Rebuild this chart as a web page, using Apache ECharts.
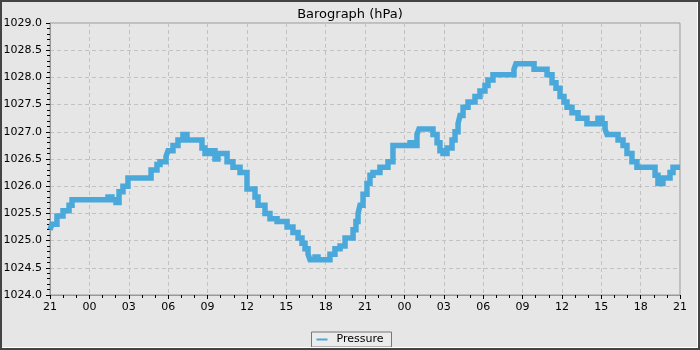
<!DOCTYPE html>
<html>
<head>
<meta charset="utf-8">
<script src="https://cdn.jsdelivr.net/npm/echarts@6/dist/echarts.min.js"></script>
<style>
  html, body { margin: 0; padding: 0; background: #e6e6e6; }
  #chart { width: 700px; height: 350px; }
</style>
</head>
<body>
<div id="chart"></div>
<script>
// hours since 21:00 on day one, and the pressure level held from that hour on
var hours = [0, 0.15, 0.53, 0.99, 1.45, 1.68, 4.42, 4.72, 5.03, 5.26, 5.56, 5.94, 7.70, 8.15, 8.38,
  8.84, 8.99, 9.37, 9.75, 10.13, 10.44, 11.58, 11.81, 12.19, 12.57, 12.80, 13.49, 13.94, 14.48,
  15.01, 15.62, 15.85, 16.38, 16.76, 17.30, 18.06, 18.51, 18.90, 19.20, 19.43, 19.66, 19.81,
  20.19, 20.42, 21.33, 21.71, 22.10, 22.48, 23.09, 23.31, 23.47, 23.62, 23.85, 24.15, 24.38,
  24.61, 25.14, 25.75, 26.13, 27.43, 27.66, 27.96, 28.11, 29.18, 29.49, 29.71, 29.94, 30.25,
  30.63, 30.86, 31.09, 31.24, 31.47, 31.85, 32.38, 32.76, 33.14, 33.37, 33.75, 35.35, 35.50,
  36.88, 37.87, 38.25, 38.55, 38.86, 39.16, 39.39, 39.77, 40.23, 40.91, 41.75, 42.06, 42.29,
  42.44, 43.28, 43.66, 43.96, 44.34, 44.72, 46.10, 46.32, 46.70, 47.24, 47.47, 48];
var pressure = [1025.2, 1025.3, 1025.45, 1025.55, 1025.65, 1025.75, 1025.8, 1025.75, 1025.7, 1025.9,
  1026.0, 1026.15, 1026.3, 1026.4, 1026.45, 1026.55, 1026.65, 1026.75, 1026.85, 1026.95, 1026.85,
  1026.7, 1026.6, 1026.65, 1026.5, 1026.6, 1026.45, 1026.35, 1026.25, 1025.95, 1025.8, 1025.65,
  1025.5, 1025.4, 1025.35, 1025.25, 1025.15, 1025.05, 1024.95, 1024.85, 1024.75, 1024.65, 1024.7,
  1024.65, 1024.75, 1024.85, 1024.9, 1025.05, 1025.2, 1025.35, 1025.5, 1025.65, 1025.85, 1026.05,
  1026.2, 1026.25, 1026.35, 1026.45, 1026.75, 1026.8, 1026.75, 1026.95, 1027.05, 1026.95, 1026.8,
  1026.65, 1026.6, 1026.7, 1026.85, 1027.0, 1027.15, 1027.3, 1027.45, 1027.55, 1027.65, 1027.75,
  1027.85, 1027.95, 1028.05, 1028.15, 1028.25, 1028.15, 1028.05, 1027.9, 1027.8, 1027.65, 1027.55,
  1027.45, 1027.35, 1027.25, 1027.15, 1027.25, 1027.15, 1027.05, 1026.95, 1026.85, 1026.75,
  1026.6, 1026.45, 1026.35, 1026.2, 1026.05, 1026.15, 1026.25, 1026.35, 1026.35];
// tick labels, one every 3 hours
var hourLabels = ['21', '00', '03', '06', '09', '12', '15', '18', '21',
  '00', '03', '06', '09', '12', '15', '18', '21'];

var font = 'DejaVu Sans';
var chart = echarts.init(document.getElementById('chart'), null, { renderer: 'canvas' });

var points = hours.map(function (h, i) { return [h, pressure[i]]; });

chart.setOption({
  animation: false,
  backgroundColor: '#e6e6e6',
  title: {
    text: 'Barograph (hPa)',
    left: 'center',
    top: 3,
    textStyle: { fontFamily: font, fontSize: 13, fontWeight: 'normal', color: '#000' }
  },
  legend: {
    bottom: 3,
    left: 'center',
    data: ['Pressure'],
    icon: 'rect',
    itemWidth: 11,
    itemHeight: 2,
    itemGap: 0,
    padding: [2, 8, 2, 5],
    borderColor: '#777',
    borderWidth: 1,
    backgroundColor: '#ececec',
    borderRadius: 0,
    textStyle: { fontFamily: font, fontSize: 11, color: '#000', padding: [0, 0, 0, 4] }
  },
  grid: {
    left: 50, right: 20, top: 23, bottom: 55,
    show: true, borderColor: '#999', borderWidth: 1, backgroundColor: 'transparent'
  },
  xAxis: {
    type: 'value',
    min: 0, max: 48, interval: 3,
    axisLine: { lineStyle: { color: '#999' } },
    axisTick: { show: true, length: 4, lineStyle: { color: '#000' } },
    minorTick: { show: true, splitNumber: 3, length: 3, lineStyle: { color: '#000' } },
    axisLabel: {
      margin: 7,
      fontFamily: font, fontSize: 11, color: '#000',
      formatter: function (v) { return hourLabels[Math.round(v / 3)]; }
    },
    splitLine: { show: true, lineStyle: { color: '#c2c2c2', type: [4, 3] } }
  },
  yAxis: {
    type: 'value',
    min: 1024, max: 1029, interval: 0.5,
    axisLine: { show: true, lineStyle: { color: '#999' } },
    axisTick: { show: true, length: 4, lineStyle: { color: '#000' } },
    minorTick: { show: true, splitNumber: 5, length: 3, lineStyle: { color: '#000' } },
    axisLabel: {
      margin: 8,
      fontFamily: font, fontSize: 11, color: '#000',
      formatter: function (v) { return v.toFixed(1); }
    },
    splitLine: { show: true, lineStyle: { color: '#c2c2c2', type: [4, 3] } }
  },
  series: [{
    name: 'Pressure',
    type: 'line',
    step: 'end',
    showSymbol: false,
    data: points,
    color: '#4aa9da',
    lineStyle: { width: 5.5, color: '#4aa9da', join: 'miter', cap: 'butt' }
  }],
  // the dark frame round the picture
  graphic: [
    { type: 'rect', silent: true, z: 100,
      shape: { x: 0, y: 0, width: 700, height: 350 },
      style: { fill: 'none', stroke: '#444', lineWidth: 4 } },
    { type: 'polyline', silent: true, z: 100,
      shape: { points: [[697.5, 2], [697.5, 347.5], [2, 347.5]] },
      style: { fill: 'none', stroke: '#fff', lineWidth: 1 } }
  ]
});
</script>
</body>
</html>
